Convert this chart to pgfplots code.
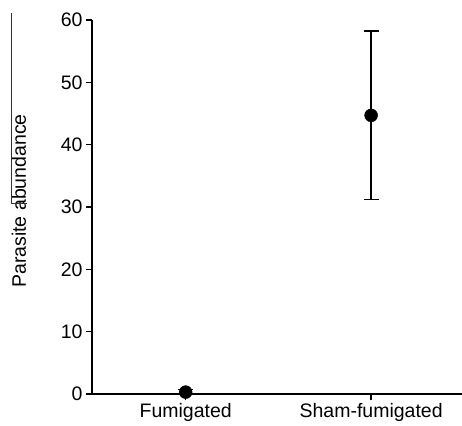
\documentclass[border=0pt]{standalone}
\usepackage{fontspec}
\setmainfont{Liberation Sans}
\usepackage{pgfplots}
\pgfplotsset{compat=1.18}

\newcommand{\lbl}{\fontsize{19.5bp}{22bp}\selectfont}

\begin{document}
\begin{tikzpicture}
\useasboundingbox (-92bp,-32bp) rectangle (370bp,394bp);
\begin{axis}[
  at={(0,0)}, anchor=south west,
  scale only axis,
  width=370bp, height=374bp,
  xmin=0.495, xmax=2.49,
  ymin=0, ymax=60,
  clip=false,
  axis x line=bottom, axis y line=left,
  axis line style={-, line width=2bp},
  xtick={1,2},
  xticklabels={Fumigated, Sham-fumigated},
  ytick={0,10,...,60},
  tick align=outside,
  major tick length=6bp,
  tick style={line width=1.6bp, black},
  tick label style={font=\lbl},
  /pgf/number format/assume math mode=true,
  ylabel={Parasite abundance},
  every axis y label/.style={at={(axis description cs:0,0.5)}, xshift=-73bp, yshift=6bp, rotate=90, anchor=center, font=\lbl},
]
\addplot[only marks, mark=*, mark size=6.5bp, black,
  error bars/.cd, y dir=both, y explicit,
  error bar style={line width=1.5bp, black},
  error mark options={rotate=90, mark size=7.5bp, line width=1.5bp, black}]
  coordinates {
    (1,0.3) +- (0,0.4)
    (2,44.7) +- (0,13.5)
  };
\end{axis}
% stray bracket line seen at the left edge of the reference
\draw[line width=0.7bp, black!80] (-81bp,381bp) -- (-81bp,191bp) -- (-65bp,191bp);
\end{tikzpicture}
\end{document}
